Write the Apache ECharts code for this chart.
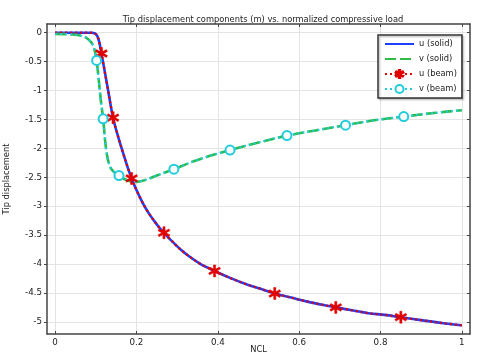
<!DOCTYPE html>
<html>
<head>
<meta charset="utf-8">
<script src="https://cdn.jsdelivr.net/npm/echarts@6/dist/echarts.min.js"></script>
<style>
html,body{margin:0;padding:0;background:#fff;}
#c{width:477px;height:357px;}
</style>
</head>
<body>
<div id="c"></div>
<script>
// ---- Data ----
const xTicks = [0, 0.2, 0.4, 0.6, 0.8, 1];
const yTicks = [0, -0.5, -1, -1.5, -2, -2.5, -3, -3.5, -4, -4.5, -5];

const uSolidX = [0, 0.05, 0.09, 0.097, 0.102, 0.106, 0.109, 0.1139, 0.1286, 0.1424, 0.155, 0.168, 0.178, 0.188, 0.2, 0.21, 0.2185, 0.23, 0.243, 0.255, 0.2676, 0.285, 0.3085, 0.33, 0.3577, 0.392, 0.43, 0.47, 0.51, 0.54, 0.58, 0.62, 0.66, 0.69, 0.73, 0.77, 0.81, 0.85, 0.9, 0.95, 1.0];
const uSolidY = [0, 0, 0, -0.01, -0.04, -0.1, -0.18, -0.36, -0.93, -1.47, -1.8, -2.1, -2.32, -2.52, -2.72, -2.87, -2.985, -3.12, -3.25, -3.36, -3.46, -3.59, -3.75, -3.87, -4.0, -4.12, -4.24, -4.35, -4.44, -4.51, -4.58, -4.65, -4.71, -4.75, -4.8, -4.85, -4.88, -4.92, -4.97, -5.02, -5.06];

const vSolidX = [0, 0.04, 0.055, 0.075, 0.088, 0.093, 0.097, 0.102, 0.107, 0.112, 0.118, 0.126, 0.135, 0.145, 0.157, 0.17, 0.185, 0.2, 0.22, 0.25, 0.292, 0.35, 0.43, 0.5, 0.57, 0.64, 0.714, 0.78, 0.857, 0.93, 1.0];
const vSolidY = [-0.02, -0.03, -0.04, -0.08, -0.16, -0.22, -0.3, -0.48, -0.8, -1.15, -1.49, -2.05, -2.32, -2.41, -2.47, -2.53, -2.57, -2.58, -2.55, -2.47, -2.36, -2.2, -2.03, -1.9, -1.78, -1.69, -1.6, -1.52, -1.45, -1.39, -1.34];

// beam solutions (same curves, markers at these x values)
const uBeamX = uSolidX;
const uBeamY = uSolidY;
const uBeamMarkerX = [0.1139, 0.1424, 0.188, 0.2676, 0.392, 0.54, 0.69, 0.85];

const vBeamX = vSolidX;
const vBeamY = vSolidY;
const vBeamMarkerX = [0.102, 0.118, 0.157, 0.292, 0.43, 0.57, 0.714, 0.857];

const seriesNames = ['u (solid)', 'v (solid)', 'u (beam)', 'v (beam)'];
const titleText = 'Tip displacement components (m) vs. normalized compressive load';
const xName = 'NCL';
const yName = 'Tip displacement';

// ---- Styling helpers ----
function asteriskPath() {
  const L = 10, w = 1.7;
  let d = '';
  [90, 30, -30].forEach(function (deg) {
    const t = deg * Math.PI / 180, c = Math.cos(t), s = Math.sin(t);
    const pts = [[L, w], [L, -w], [-L, -w], [-L, w]].map(function (p) {
      return [(p[0] * c - p[1] * s).toFixed(3), (p[0] * s + p[1] * c).toFixed(3)];
    });
    d += 'M' + pts[0].join(',') + 'L' + pts[1].join(',') + 'L' + pts[2].join(',') + 'L' + pts[3].join(',') + 'Z';
  });
  return 'path://' + d;
}
const STAR = asteriskPath();

function pairs(xs, ys) { return xs.map(function (x, i) { return [x, ys[i]]; }); }
function withMarkers(xs, ys, marks) {
  return xs.map(function (x, i) {
    const m = marks.indexOf(x) >= 0;
    return m ? { value: [x, ys[i]] } : { value: [x, ys[i]], symbol: 'none' };
  });
}

const FONT = 'DejaVu Sans';
const axisColor = '#444';
const gridColor = '#e4e4e4';
const xMin = -0.02, xMax = 1.02, yMin = -5.21, yMax = 0.15;
const tickFont = 8.7;
const SMOOTH = 0.35;

const chart = echarts.init(document.getElementById('c'), null, { renderer: 'canvas' });
chart.setOption({
  animation: false,
  backgroundColor: '#fff',
  title: {
    text: titleText, left: 258, top: 11, textAlign: 'center',
    textStyle: { fontFamily: FONT, fontSize: 8.3, fontWeight: 'normal', color: '#222' }
  },
  grid: { left: 47, right: 7, top: 24, bottom: 23, containLabel: false, outerBoundsMode: 'none' },
  legend: {
    orient: 'vertical', left: 378, top: 35,
    padding: [3.5, 5, 3.5, 6], itemGap: 4, itemWidth: 29, itemHeight: 10,
    backgroundColor: '#fff', borderColor: '#333', borderWidth: 1.5,
    shadowColor: 'rgba(0,0,0,0.25)', shadowOffsetX: 1.5, shadowOffsetY: 1.5, shadowBlur: 1.5,
    textStyle: { fontFamily: FONT, fontSize: 8.3, color: '#222', lineHeight: 11 },
    data: [
      { name: seriesNames[0], itemStyle: { opacity: 0 } },
      { name: seriesNames[1], itemStyle: { opacity: 0 } },
      { name: seriesNames[2] },
      { name: seriesNames[3] }
    ]
  },
  xAxis: [{
    type: 'value', min: xMin, max: xMax, position: 'bottom',
    name: xName, nameLocation: 'middle', nameGap: 12, nameMoveOverlap: false,
    nameTextStyle: { fontFamily: FONT, fontSize: 8.3, color: '#222' },
    axisLine: { show: true, onZero: false, lineStyle: { color: axisColor, width: 1.5 } },
    axisTick: { show: true, inside: true, length: 3, customValues: xTicks, lineStyle: { color: axisColor } },
    axisLabel: { customValues: xTicks, fontFamily: FONT, fontSize: tickFont, color: '#222', margin: 4 },
    splitLine: { show: true, lineStyle: { color: gridColor, width: 1 } }
  }, {
    type: 'value', min: xMin, max: xMax, position: 'top',
    axisLine: { show: true, onZero: false, lineStyle: { color: axisColor, width: 1.5 } },
    axisTick: { show: true, inside: true, length: 3, customValues: xTicks, lineStyle: { color: axisColor } },
    axisLabel: { show: false, customValues: xTicks },
    splitLine: { show: false }
  }],
  yAxis: [{
    type: 'value', min: yMin, max: yMax, position: 'left',
    name: yName, nameLocation: 'middle', nameGap: 36, nameRotate: 90, nameMoveOverlap: false,
    nameTextStyle: { fontFamily: FONT, fontSize: 8.3, color: '#222' },
    axisLine: { show: true, onZero: false, lineStyle: { color: axisColor, width: 1.5 } },
    axisTick: { show: true, inside: false, length: 3, customValues: yTicks, lineStyle: { color: axisColor } },
    axisLabel: { customValues: yTicks, fontFamily: FONT, fontSize: tickFont, color: '#222', margin: 5 },
    splitLine: { show: true, lineStyle: { color: gridColor, width: 1 } }
  }, {
    type: 'value', min: yMin, max: yMax, position: 'right',
    axisLine: { show: true, onZero: false, lineStyle: { color: axisColor, width: 1.5 } },
    axisTick: { show: true, inside: true, length: 3, customValues: yTicks, lineStyle: { color: axisColor } },
    axisLabel: { show: false, customValues: yTicks },
    splitLine: { show: false }
  }],
  series: [{
    name: seriesNames[0], type: 'line', symbol: 'none', smooth: SMOOTH,
    data: pairs(uSolidX, uSolidY),
    lineStyle: { color: '#1f3fff', width: 2.6 }, itemStyle: { color: '#1f3fff' }
  }, {
    name: seriesNames[1], type: 'line', symbol: 'none', smooth: SMOOTH,
    data: pairs(vSolidX, vSolidY),
    lineStyle: { color: '#2dbb46', width: 2.6, type: [11, 4] }, itemStyle: { color: '#2dbb46' }
  }, {
    name: seriesNames[2], type: 'line', symbol: STAR, symbolSize: 12, showSymbol: true, smooth: SMOOTH,
    data: withMarkers(uBeamX, uBeamY, uBeamMarkerX),
    lineStyle: { color: '#e00000', width: 2.4, type: [2, 3] },
    itemStyle: { color: '#e00000', borderColor: '#e00000', borderWidth: 0.5 }
  }, {
    name: seriesNames[3], type: 'line', symbol: 'emptyCircle', symbolSize: 9, showSymbol: true, smooth: SMOOTH,
    data: withMarkers(vBeamX, vBeamY, vBeamMarkerX),
    lineStyle: { color: '#22ccdd', width: 2.2, type: [2, 3] },
    itemStyle: { color: '#22ccdd', borderColor: '#22ccdd', borderWidth: 1.5 }
  }]
});
</script>
</body>
</html>
